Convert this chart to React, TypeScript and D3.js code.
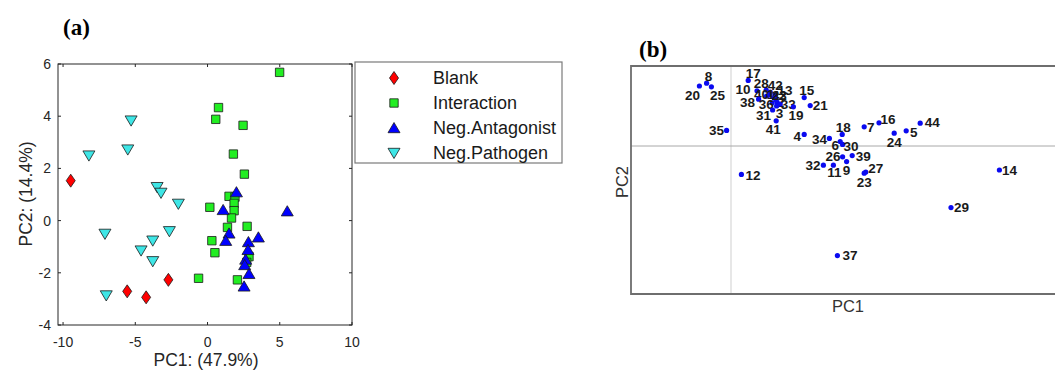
import * as d3 from "d3";

// ---- panel (a) data: PC scores per group [PC1, PC2]
const blank: [number, number][] = [
  [-9.47, 1.53], [-5.56, -2.71], [-4.25, -2.94], [-2.71, -2.27],
];
const interaction: [number, number][] = [
  [4.99, 5.68], [0.76, 4.33], [0.57, 3.88], [2.46, 3.65], [1.79, 2.55],
  [2.55, 1.78], [1.49, 0.93], [1.9, 0.9], [1.84, 0.66], [1.84, 0.38],
  [0.16, 0.51], [1.66, 0.1], [1.38, -0.26], [2.74, -0.22], [0.3, -0.77],
  [0.51, -1.23], [2.87, -1.38], [2.71, -1.6], [-0.62, -2.21], [2.07, -2.27],
];
const negAntagonist: [number, number][] = [
  [2.0, 1.09], [1.08, 0.41], [5.52, 0.36], [1.49, -0.49], [1.26, -0.77],
  [3.52, -0.64], [2.83, -0.82], [2.8, -1.12], [2.64, -1.49], [2.57, -1.7],
  [2.87, -2.04], [2.53, -2.52],
];
const negPathogen: [number, number][] = [
  [-5.29, 3.83], [-8.21, 2.49], [-5.52, 2.72], [-3.49, 1.28], [-3.22, 1.06],
  [-2.02, 0.64], [-7.1, -0.51], [-2.64, -0.41], [-3.79, -0.77], [-4.6, -1.15],
  [-3.79, -1.56], [-7.01, -2.87],
];
const groupNames = ["Blank", "Interaction", "Neg.Antagonist", "Neg.Pathogen"];
const xTicksA = [-10, -5, 0, 5, 10];
const yTicksA = [-4, -2, 0, 2, 4, 6];

// ---- panel (b) data: sample scores
const sampleIds = [
  8, 20, 25, 35, 17, 10, 28, 42, 13, 40, 1, 38, 36, 2, 43, 22, 33, 3, 31, 19, 15,
  21, 41, 4, 34, 18, 6, 30, 7, 16, 24, 5, 44, 12, 14, 29, 37, 32, 11, 9, 26, 39, 27, 23,
];
const pc1Scores = [
  -0.61, -0.79, -0.49, -0.11, 0.43, 0.65, 0.88, 0.98, 1.1, 0.89, 0.97, 0.69, 1.03,
  1.16, 1.13, 1.08, 1.23, 1.14, 1.04, 1.56, 1.83, 1.98, 1.13, 1.83, 2.46, 2.78, 2.73,
  2.79, 3.33, 3.7, 4.08, 4.38, 4.73, 0.26, 6.71, 5.5, 2.66, 2.31, 2.56, 2.89, 2.79,
  3.03, 3.37, 3.33,
];
const pc2Scores = [
  1.57, 1.5, 1.48, 0.39, 1.64, 1.38, 1.4, 1.35, 1.28, 1.25, 1.28, 1.17, 1.08, 1.07,
  1.15, 1.2, 1.05, 1.0, 0.9, 0.98, 1.21, 1.01, 0.63, 0.29, 0.19, 0.29, 0.11, 0.04,
  0.48, 0.58, 0.32, 0.38, 0.57, -0.71, -0.6, -1.54, -2.74, -0.48, -0.48, -0.39,
  -0.27, -0.24, -0.65, -0.68,
];
// label placement relative to each dot (px)
const labelOffsets: Record<number, [number, number]> = {
  8: [2, -7], 20: [-7, 9], 25: [6, 8], 35: [-10, 0], 17: [5, -7], 10: [-14, -2],
  28: [-5, -7], 42: [5, -6.5], 13: [10, -4.5], 40: [-5, -2], 1: [1, -1], 38: [-11, 2.5],
  36: [-6, 1], 2: [3, -1], 43: [3, -5], 22: [5, -3], 33: [8, 0], 3: [3, 7], 31: [-9, 5],
  19: [2.5, 8.5], 15: [2.5, -7], 21: [10, 0], 41: [-3, 8.5], 4: [-7, 1.5], 34: [-10, 1],
  18: [1, -7], 6: [-5, 3.5], 30: [8.5, 1.5], 7: [6.5, 0.5], 16: [9, -4], 24: [0, 8.5],
  5: [7.5, 1], 44: [12, -1], 12: [11.5, 0.5], 14: [10, 0], 29: [10.5, 0], 37: [12.5, 0],
  32: [-10.5, 0], 11: [1, 6.5], 9: [0, 8.5], 26: [-9.5, -0.5], 39: [11, 1], 27: [10, -3.5],
  23: [0, 9],
};

const sans = "'Liberation Sans', Arial, sans-serif";
const serif = "'Liberation Serif', 'Times New Roman', serif";
const axisColor = "#262626";

type Kind = "diamond" | "square" | "up" | "down";
const groupStyles: { kind: Kind; fill: string }[] = [
  { kind: "diamond", fill: "#ff0000" },
  { kind: "square", fill: "#22ee22" },
  { kind: "up", fill: "#0000ff" },
  { kind: "down", fill: "#3ee6e6" },
];

function markerPath(kind: Kind) {
  if (kind === "diamond") return "M0,-6.5L4.5,0L0,6.5L-4.5,0Z";
  if (kind === "square") return "M-4.2,-4.2H4.2V4.2H-4.2Z";
  if (kind === "up") return "M0,-5.5L6,4.7L-6,4.7Z";
  return "M0,5.5L6,-4.7L-6,-4.7Z";
}

function PanelA() {
  const x = d3.scaleLinear().domain([-10.35, 10]).range([58, 352]);
  const y = d3.scaleLinear().domain([-4, 6]).range([325, 64]);
  const groups = [blank, interaction, negAntagonist, negPathogen];
  const [x0, x1] = x.range();
  const [y0, y1] = y.range();
  const tl = 3;

  return (
    <g>
      <text x={63} y={35} fontFamily={serif} fontWeight="bold" fontSize={23}>(a)</text>

      {/* axes box */}
      <rect x={x0} y={y1} width={x1 - x0} height={y0 - y1} fill="white" stroke={axisColor} strokeWidth={1} />
      {xTicksA.map((t) => (
        <g key={`xt${t}`}>
          <line x1={x(t)} x2={x(t)} y1={y0} y2={y0 - tl} stroke={axisColor} />
          <line x1={x(t)} x2={x(t)} y1={y1} y2={y1 + tl} stroke={axisColor} />
          <text x={x(t)} y={347} textAnchor="middle" fontFamily={sans} fontSize={14} fill={axisColor}>
            {t}
          </text>
        </g>
      ))}
      {yTicksA.map((t) => (
        <g key={`yt${t}`}>
          <line x1={x0} x2={x0 + tl} y1={y(t)} y2={y(t)} stroke={axisColor} />
          <line x1={x1} x2={x1 - tl} y1={y(t)} y2={y(t)} stroke={axisColor} />
          <text x={51} y={y(t)} dy="0.35em" textAnchor="end" fontFamily={sans} fontSize={14} fill={axisColor}>
            {t}
          </text>
        </g>
      ))}

      {/* points */}
      {groups.map((pts, gi) =>
        pts.map(([px, py], i) => (
          <path
            key={`p${gi}-${i}`}
            d={markerPath(groupStyles[gi].kind)}
            transform={`translate(${x(px)},${y(py)})`}
            fill={groupStyles[gi].fill}
            stroke="#1a1a1a"
            strokeWidth={0.8}
          />
        ))
      )}

      <text x={206} y={366} textAnchor="middle" fontFamily={sans} fontSize={17.5} fill={axisColor}>
        PC1: (47.9%)
      </text>
      <text
        transform="translate(26,194) rotate(-90)"
        textAnchor="middle"
        dy="0.35em"
        fontFamily={sans}
        fontSize={17.5}
        fill={axisColor}
      >
        PC2: (14.4%)
      </text>

      {/* legend */}
      <rect x={355} y={62} width={207} height={101} fill="white" stroke="#7a7a7a" strokeWidth={1.2} />
      {groupNames.map((name, i) => (
        <g key={name} transform={`translate(0,${78 + i * 25})`}>
          <path d={markerPath(groupStyles[i].kind)} transform="translate(394,0)" fill={groupStyles[i].fill} stroke="#1a1a1a" strokeWidth={0.8} />
          <text x={433} dy="0.35em" fontFamily={sans} fontSize={18} fill="#1a1a1a">
            {name}
          </text>
        </g>
      ))}
    </g>
  );
}

function PanelB() {
  const x = d3.scaleLinear().domain([-2.5, 8.6]).range([631, 1075]);
  const y = d3.scaleLinear().domain([-3.7, 2.0]).range([294, 66]);
  const [x0, x1] = x.range();
  const [y0, y1] = y.range();

  return (
    <g>
      <text x={639} y={57} fontFamily={serif} fontWeight="bold" fontSize={23}>(b)</text>

      {/* zero lines */}
      <line x1={x(0)} x2={x(0)} y1={y1} y2={y0} stroke="#cfcfcf" strokeWidth={1} />
      <line x1={x0} x2={x1} y1={y(0)} y2={y(0)} stroke="#a8a8a8" strokeWidth={1} />

      {/* frame (open to the right) */}
      <path d={`M${x1},${y1}H${x0}V${y0}H${x1}`} fill="none" stroke="#6e6e6e" strokeWidth={1.8} />

      {sampleIds.map((id, i) => {
        const cx = x(pc1Scores[i]);
        const cy = y(pc2Scores[i]);
        const [dx, dy] = labelOffsets[id] ?? [10, 0];
        return (
          <g key={`s${id}`}>
            <circle cx={cx} cy={cy} r={2.6} fill="#0a0af0" />
            <text
              x={cx + dx}
              y={cy + dy}
              dy="0.36em"
              textAnchor="middle"
              fontFamily={sans}
              fontWeight="bold"
              fontSize={13.5}
              fill="#1a1a1a"
            >
              {id}
            </text>
          </g>
        );
      })}

      <text x={848} y={312} textAnchor="middle" fontFamily={sans} fontSize={16.5} fill="#333">
        PC1
      </text>
      <text transform="translate(622,182) rotate(-90)" textAnchor="middle" dy="0.35em" fontFamily={sans} fontSize={16.5} fill="#333">
        PC2
      </text>
    </g>
  );
}

export default function App() {
  return (
    <svg
      width={1055}
      height={374}
      style={{ position: "absolute", left: 0, top: 0, background: "white" }}
    >
      <rect width={1055} height={374} fill="white" />
      <PanelA />
      <PanelB />
    </svg>
  );
}
